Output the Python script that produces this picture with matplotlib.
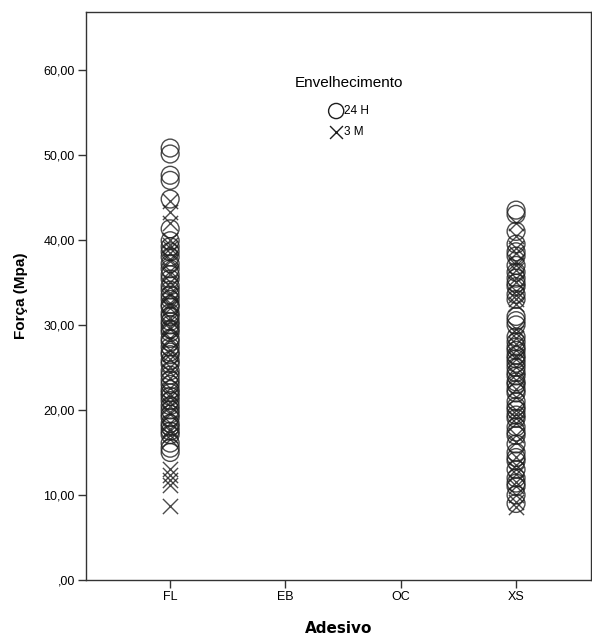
import numpy as np
import matplotlib
matplotlib.use('Agg')
import matplotlib.pyplot as plt

# categories on x axis
adesivos = ['FL', 'EB', 'OC', 'XS']

# forca (MPa), per adhesive and ageing group
fl_24h = [50.8, 50.1, 47.6, 47.0, 44.8, 41.3, 39.9, 39.2, 38.6, 38.0, 37.2, 36.6,
          35.9, 35.4, 34.6, 34.1, 33.5, 33.0, 32.4, 32.1, 31.4, 31.0, 30.4, 30.0,
          29.5, 29.1, 28.4, 28.0, 27.4, 26.8, 26.5, 25.8, 25.4, 24.6, 24.1, 23.5,
          23.0, 22.4, 22.0, 21.6, 21.1, 20.5, 20.0, 19.5, 19.1, 18.4, 18.0, 17.5,
          17.1, 16.1, 15.5, 15.0]
fl_3m = [44.6, 43.3, 42.0, 40.0, 39.4, 39.1, 38.5, 37.8, 37.5, 36.3, 36.0, 35.0,
         34.4, 33.8, 33.5, 32.6, 32.3, 32.0, 30.8, 30.5, 29.8, 29.5, 28.5, 28.2,
         27.0, 26.6, 26.0, 25.1, 24.5, 23.7, 22.6, 21.9, 21.5, 20.9, 20.5, 19.8,
         19.5, 18.5, 17.8, 17.5, 17.0, 16.6, 13.0, 12.3, 11.8, 11.2, 8.7]
xs_24h = [43.5, 43.0, 41.0, 39.5, 38.6, 38.1, 37.0, 36.2, 35.5, 34.9, 34.5, 33.6,
          33.0, 31.0, 30.5, 30.0, 28.6, 28.0, 27.4, 27.0, 26.4, 26.0, 25.5, 25.0,
          24.4, 24.0, 23.3, 23.0, 22.4, 22.0, 21.0, 20.4, 20.0, 19.4, 19.0, 18.0,
          17.4, 17.0, 16.0, 15.0, 14.4, 14.0, 13.0, 12.0, 11.4, 11.0, 10.0, 9.0]
xs_3m = [42.0, 40.5, 39.0, 38.5, 37.4, 37.0, 36.5, 35.5, 35.0, 34.0, 33.5, 33.1,
         32.5, 29.5, 29.0, 28.5, 27.8, 27.0, 26.3, 26.0, 25.0, 24.2, 23.5, 22.5,
         21.5, 20.0, 19.5, 19.0, 18.5, 17.0, 16.2, 14.5, 13.5, 13.0, 12.5, 11.5,
         11.0, 10.0, 9.2, 8.6]

yticks = [0, 10, 20, 30, 40, 50, 60]
ytick_labels = [',00', '10,00', '20,00', '30,00', '40,00', '50,00', '60,00']

fig = plt.figure(figsize=(5.92, 6.37), dpi=100)
ax = fig.add_axes([86/592, 57/637, 505/592, 568/637])

col = '#1e1e1e'
x_fl = adesivos.index('FL')
x_xs = adesivos.index('XS')
ax.scatter([x_fl]*len(fl_24h), fl_24h, s=165, facecolors='none', edgecolors=col,
           linewidths=1.0, alpha=0.8, label='24 H')
ax.scatter([x_fl]*len(fl_3m), fl_3m, s=120, marker='x', color=col,
           linewidths=1.0, alpha=0.8, label='3 M')
ax.scatter([x_xs]*len(xs_24h), xs_24h, s=165, facecolors='none', edgecolors=col,
           linewidths=1.0, alpha=0.8)
ax.scatter([x_xs]*len(xs_3m), xs_3m, s=120, marker='x', color=col,
           linewidths=1.0, alpha=0.8)

ax.set_xlim(-0.73, 3.65)
ax.set_ylim(0, 66.8)
ax.set_xticks(range(len(adesivos)))
ax.set_xticklabels(adesivos, family='Liberation Sans', fontsize=9)
ax.set_yticks(yticks)
ax.set_yticklabels(ytick_labels, family='Liberation Sans', fontsize=9)
ax.tick_params(length=6, width=1, color='#333333', pad=2)
for s in ax.spines.values():
    s.set_color('#333333')
    s.set_linewidth(1)

ax.set_xlabel('Adesivo', fontsize=11, fontweight='bold', labelpad=13)
ax.set_ylabel('Força (Mpa)', family='Liberation Sans', fontsize=11, fontweight='bold',
              labelpad=11)

leg = ax.legend(title='Envelhecimento', loc='upper center', bbox_to_anchor=(0.52, 0.898),
                frameon=False, handletextpad=0.0, labelspacing=0.75, handlelength=1.3,
                markerscale=0.85, borderpad=0,
                prop={'family': 'Liberation Sans', 'size': 8.5})
leg.get_title().set_fontfamily('Liberation Sans')
leg.get_title().set_fontsize(11)
leg._legend_box.sep = 11
for h in leg.legend_handles:
    h.set_alpha(1)

fig.savefig('out.png', dpi=100)
